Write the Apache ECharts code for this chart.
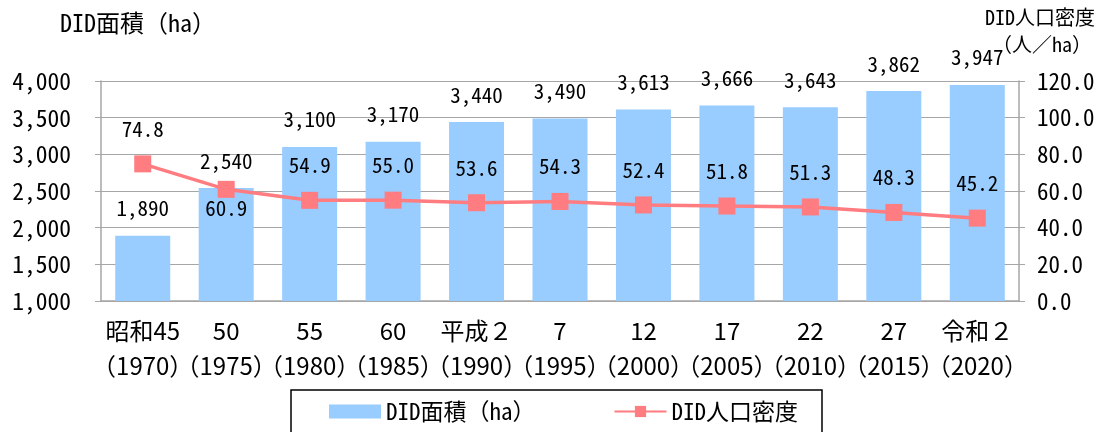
<!DOCTYPE html>
<html><head><meta charset="utf-8">
<script src="https://cdn.jsdelivr.net/npm/echarts@6/dist/echarts.min.js"></script>
<style>html,body{margin:0;padding:0;background:#fff}#c{width:1104px;height:432px}</style>
</head><body><div id="c"></div>
<script>
const categories = ['昭和45\n（1970）','50\n（1975）','55\n（1980）','60\n（1985）','平成２\n（1990）','7\n（1995）','12\n（2000）','17\n（2005）','22\n（2010）','27\n（2015）','令和２\n（2020）'];
const areaValues = [1890, 2540, 3100, 3170, 3440, 3490, 3613, 3666, 3643, 3862, 3947];
const densityValues = [74.8, 60.9, 54.9, 55.0, 53.6, 54.3, 52.4, 51.8, 51.3, 48.3, 45.2];
const leftTicks = {min: 1000, max: 4000, interval: 500};
const rightTicks = {min: 0, max: 120, interval: 20};
const leftTitle = 'DID面積（ha）';
const rightTitle = ['DID人口密度', '（人／ha）'];
const densityBelow = [1]; // index of density labels drawn below the point

const F = "'Noto Sans Mono CJK JP','Noto Sans CJK JP',sans-serif";
const FP = "'Noto Sans CJK JP',sans-serif";
const gridColor = '#A6A6A6';
const fmtComma = v => Number(v).toLocaleString('en-US');

const chart = echarts.init(document.getElementById('c'), null, {renderer:'canvas'});
chart.setOption({
  animation: false,
  textStyle: {fontFamily: F, color: '#000'},
  grid: {left: 101, right: 85, top: 81, bottom: 131},
  graphic: [
    {type: 'text', x: 138, y: 23, style: {text: leftTitle, font: "24px " + F, fill: '#000', align: 'center', verticalAlign: 'middle'}},
    {type: 'text', x: 1040, y: 17, style: {text: rightTitle[0], font: "20px " + F, fill: '#000', align: 'center', verticalAlign: 'middle'}},
    {type: 'text', x: 1042, y: 44, style: {text: rightTitle[1], font: "20px " + F, fill: '#000', align: 'center', verticalAlign: 'middle'}}
  ],
  legend: {
    left: 291, top: 390,
    padding: [10, 24, 30, 38],
    borderColor: '#000', borderWidth: 1.5,
    itemWidth: 52, itemHeight: 14, itemGap: 78,
    textStyle: {fontFamily: F, fontSize: 23, color: '#000'},
    data: [{name: 'DID面積（ha）', icon: 'rect'}, {name: 'DID人口密度'}]
  },
  xAxis: {
    type: 'category', data: categories,
    axisLine: {lineStyle: {color: gridColor, width: 1.5}},
    axisTick: {lineStyle: {color: gridColor}, length: 6},
    axisLabel: {fontFamily: FP, fontSize: 24, color: '#000', lineHeight: 35, margin: 12, interval: 0}
  },
  yAxis: [{
    type: 'value', min: leftTicks.min, max: leftTicks.max, interval: leftTicks.interval,
    axisLine: {show: true, lineStyle: {color: gridColor, width: 1.5}},
    axisTick: {show: true, lineStyle: {color: gridColor}, length: 6},
    splitLine: {lineStyle: {color: gridColor, width: 1.2}},
    axisLabel: {fontFamily: F, fontSize: 23.5, color: '#000', margin: 30, formatter: fmtComma}
  }, {
    type: 'value', min: rightTicks.min, max: rightTicks.max, interval: rightTicks.interval,
    axisLine: {show: true, lineStyle: {color: gridColor, width: 1.5}},
    axisTick: {show: true, lineStyle: {color: gridColor}, length: 6},
    splitLine: {show: false},
    axisLabel: {fontFamily: F, fontSize: 23, color: '#000', margin: 18, formatter: v => Number(v).toFixed(1)}
  }],
  series: [{
    name: 'DID面積（ha）', type: 'bar', yAxisIndex: 0,
    data: areaValues, barWidth: 55,
    itemStyle: {color: '#99CCFF'},
    label: {show: true, position: 'top', distance: 17, fontFamily: F, fontSize: 21, color: '#000', formatter: p => fmtComma(p.value)}
  }, {
    name: 'DID人口密度', type: 'line', yAxisIndex: 1,
    data: densityValues.map((v, i) => densityBelow.includes(i) ? {value: v, label: {position: 'bottom', distance: 0}} : v),
    symbol: 'rect', symbolSize: 17,
    lineStyle: {color: '#FF7C80', width: 3.5},
    itemStyle: {color: '#FF7C80'},
    label: {show: true, position: 'top', distance: 16, fontFamily: F, fontSize: 21, color: '#000', formatter: p => Number(p.value).toFixed(1)},
    z: 5
  }]
});
</script></body></html>
